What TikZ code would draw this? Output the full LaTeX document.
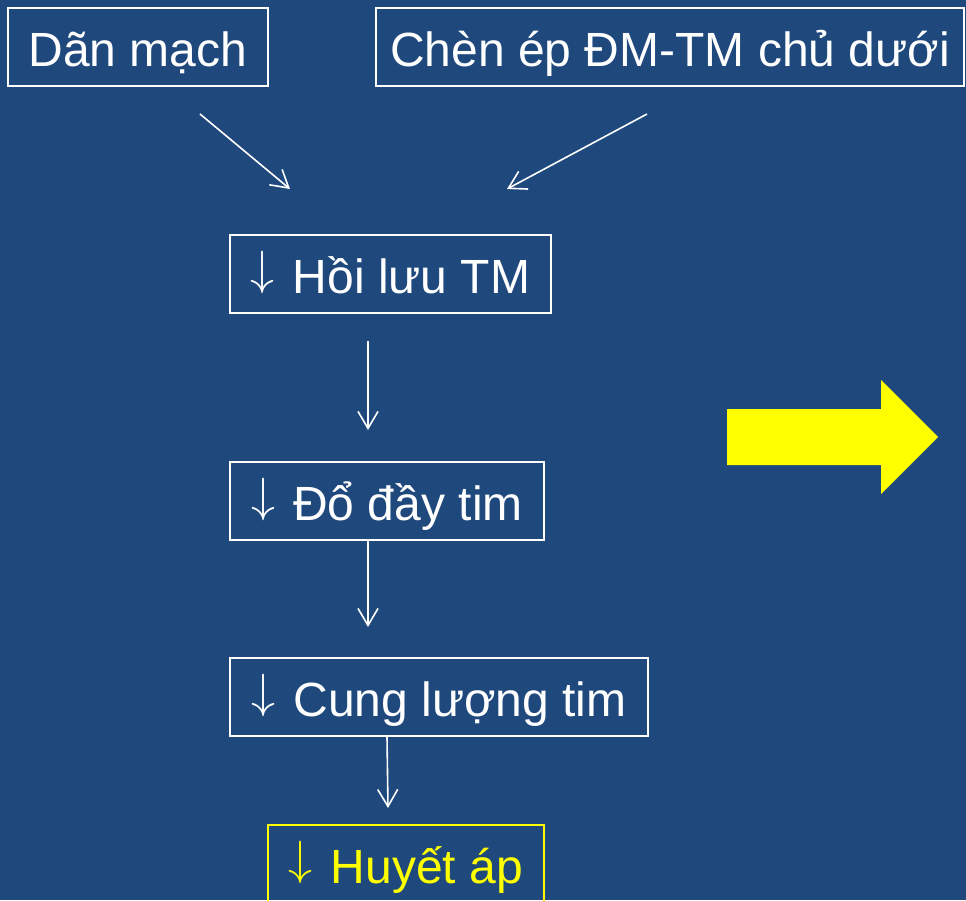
\documentclass[tikz,border=0pt]{standalone}
\usepackage{fontspec}
\setmainfont{Liberation Sans}
\usetikzlibrary{arrows.meta}
\definecolor{bgblue}{RGB}{31,73,125}
\definecolor{arrowyellow}{RGB}{255,255,0}
\newcommand{\dnarrow}{\raisebox{9.3pt}{\scalebox{4.8}{\fontsize{10pt}{12pt}\selectfont$\downarrow$}}\hspace{18pt}}
\tikzset{
  box/.style={draw=white, line width=2pt, rectangle, inner sep=0pt, minimum height=78pt,
    text height=58.5pt, text depth=19.5pt, text=white, font=\fontsize{48pt}{54pt}\selectfont},
  ybox/.style={box, draw=arrowyellow, text=arrowyellow},
  conn/.style={draw=white, line width=1.6pt, -{Straight Barb[length=17pt,width=20pt,line width=1.6pt]}}
}
\begin{document}
\begin{tikzpicture}[x=1pt,y=-1pt]
\useasboundingbox (0,0) rectangle (966,900);
\clip (0,0) rectangle (966,900);
\fill[bgblue] (0,0) rectangle (966,900);

\node[box, minimum width=260pt] (dan) at (138,47) {Dãn mạch};
\node[box, minimum width=588pt] (chen) at (670,47) {Chèn ép ĐM-TM chủ dưới};
\node[box, minimum width=321pt] (hoi) at (390.5,274) {\dnarrow Hồi lưu TM};
\node[box, minimum width=314pt] (do) at (387,501) {\dnarrow Đổ đầy tim};
\node[box, minimum width=418pt] (cung) at (439,697) {\dnarrow Cung lượng tim};
\node[ybox, minimum width=276pt] (huyet) at (406,864) {\dnarrow Huyết áp};

\coordinate (a1s) at (200,114);
\coordinate (a1e) at (290,189);
\coordinate (a2s) at (647,114);
\coordinate (a2e) at (507,189);
\coordinate (a3s) at (368,341);
\coordinate (a3e) at (368,430);
\coordinate (a4e) at (368,627);
\coordinate (a5e) at (388,808);

\draw[conn] (a1s) -- (a1e);
\draw[conn] (a2s) -- (a2e);
\draw[conn] (a3s) -- (a3e);
\draw[conn] (do.south -| a4e) -- (a4e);
\draw[conn] (cung.south -| 387,0) -- (a5e);

\fill[arrowyellow] (727,409) -- (881,409) -- (881,380) -- (938,437) -- (881,494) -- (881,465) -- (727,465) -- cycle;
\end{tikzpicture}
\end{document}
